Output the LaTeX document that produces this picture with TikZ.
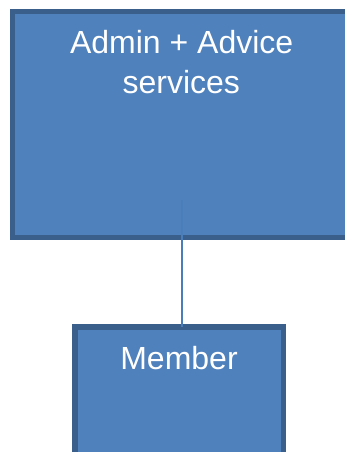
\documentclass[tikz,border=0pt]{standalone}
\usepackage{fontspec}
\setmainfont{Liberation Sans}
\definecolor{boxfill}{HTML}{4F81BD}
\definecolor{boxedge}{HTML}{3A5F8B}
\definecolor{linkcol}{HTML}{4A7EBB}
\begin{document}
\begin{tikzpicture}[x=1pt,y=-1pt,
  orgbox/.style={draw=boxedge,fill=boxfill,line width=5.5pt,inner sep=0pt,outer sep=0pt,rectangle},
  boxtext/.style={text=white,font=\fontsize{32}{40}\selectfont,inner sep=0pt,anchor=base},
  link/.style={draw=linkcol,line width=2pt}]
\useasboundingbox (0,0) rectangle (345,452);
\clip (0,0) rectangle (345,452);
\node[orgbox,minimum width=407.7pt,minimum height=226.2pt] (admin) at (216.15,124.4) {};
\node[orgbox,minimum width=208.3pt,minimum height=192.8pt] (member) at (179.15,423.6) {};
\node[boxtext] (t1) at (181.7,53.3) {Admin + Advice};
\node[boxtext] (t2) at (181.3,93.3) {services};
\node[boxtext] (t3) at (179,369.3) {Member};
\coordinate (top) at (181.7,200);
\draw[link] (top) -- (top |- member.north);
\end{tikzpicture}
\end{document}
